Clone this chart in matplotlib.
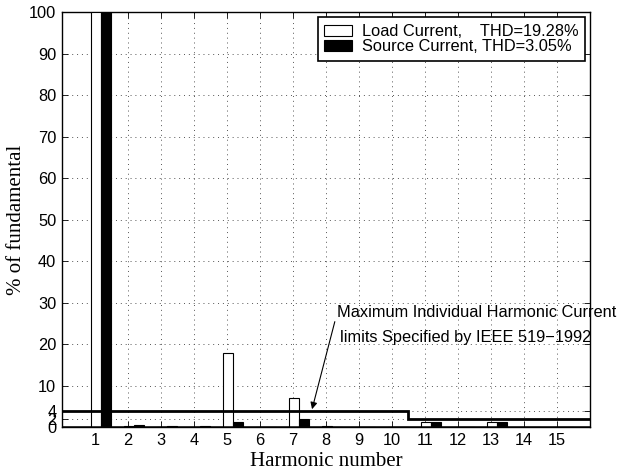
import matplotlib
matplotlib.use("Agg")
import matplotlib.pyplot as plt
import numpy as np

# Harmonic spectrum (% of fundamental)
harmonics = list(range(1, 16))
load_current = [100, 0.4, 0.1, 0.2, 17.85, 0.2, 7.1, 0.3, 0.05, 0.05, 1.3, 0.0, 1.3, 0.0, 0.0]
source_current = [100, 0.65, 0.4, 0.45, 1.4, 0.15, 2.0, 0.1, 0.0, 0.0, 1.4, 0.0, 1.4, 0.0, 0.0]

# IEEE 519-1992 individual harmonic limits (step profile)
limit_x = [0, 10.5, 10.5, 16]
limit_y = [4, 4, 2, 2]

y_ticks = [0, 2, 4, 10, 20, 30, 40, 50, 60, 70, 80, 90, 100]
load_label = "Load Current,    THD=19.28%"
source_label = "Source Current, THD=3.05%"

sans = "Liberation Sans"
serif = "Liberation Serif"
fs = 11.8

fig = plt.figure(figsize=(6.19, 4.71), dpi=100)
ax = fig.add_axes([0.100, 0.0924, 0.853, 0.8811])

x = np.array(harmonics, dtype=float)
width = 0.31
b1 = ax.bar(x + 0.03, load_current, width=width, color="white",
            edgecolor="black", linewidth=0.8, label=load_label, zorder=3)
b2 = ax.bar(x + 0.03 + width, source_current, width=width, color="black",
            edgecolor="black", linewidth=0.8, label=source_label, zorder=3)

ax.plot(limit_x, limit_y, color="black", linewidth=2.0, zorder=4,
        solid_joinstyle="miter")
ax.axhline(0, color="black", linewidth=1.8, zorder=5)

ax.set_xlim(0, 16)
ax.set_ylim(0, 100)
ax.set_xticks(harmonics)
ax.set_yticks(y_ticks)
ax.tick_params(direction="in", top=True, right=True, length=4, width=0.6,
               labelsize=fs, pad=4)
for lab in ax.get_xticklabels() + ax.get_yticklabels():
    lab.set_fontfamily(sans)
ax.grid(True, linestyle=(0, (1, 4)), color="#555555", linewidth=0.7, zorder=0)
for s in ax.spines.values():
    s.set_linewidth(1.0)

ax.set_xlabel("Harmonic number", fontfamily=serif, fontsize=15, labelpad=3)
ax.set_ylabel("% of fundamental", fontfamily=serif, fontsize=15, labelpad=2)

leg = ax.legend(loc="upper right", fancybox=False, edgecolor="black",
                framealpha=1, borderaxespad=0.3, handlelength=1.7,
                handleheight=0.65, handletextpad=0.6, borderpad=0.4,
                labelspacing=0.0, prop={"family": sans, "size": fs})
leg.get_frame().set_linewidth(1.2)

ax.annotate("", xy=(7.58, 4.4), xytext=(8.27, 25.5),
            arrowprops=dict(arrowstyle="-|>", color="black", lw=0.8,
                            mutation_scale=10, shrinkA=0, shrinkB=0),
            zorder=6)
ax.text(8.33, 27.6, "Maximum Individual Harmonic Current", fontfamily=sans,
        fontsize=fs, va="center", ha="left", zorder=6, clip_on=False)
ax.text(8.44, 21.6, "limits Specified by IEEE 519\u22121992", fontfamily=sans,
        fontsize=fs, va="center", ha="left", zorder=6, clip_on=False)

fig.savefig("out.png", dpi=100)
